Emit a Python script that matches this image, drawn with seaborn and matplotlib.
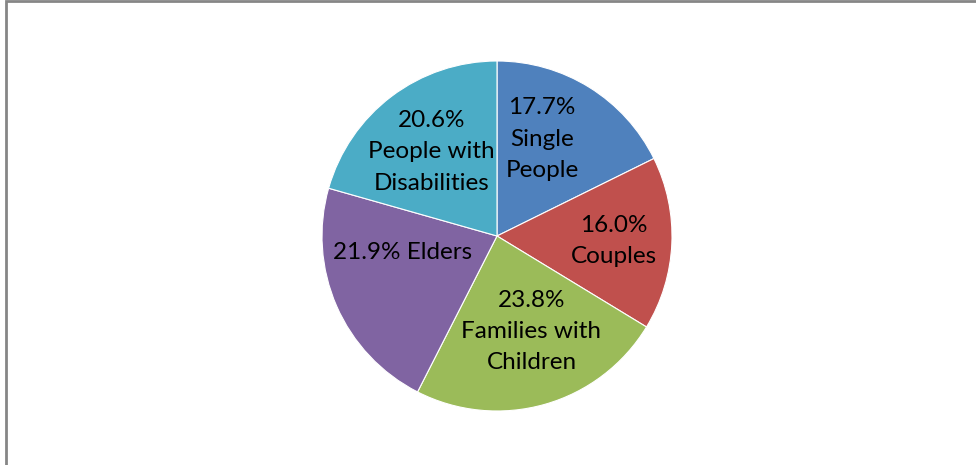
import numpy as np
import matplotlib
matplotlib.use("Agg")
import matplotlib.pyplot as plt
import seaborn as sns

# Household composition shares (%), clockwise from 12 o'clock
categories = ["Single\nPeople", "Couples", "Families with\nChildren", "Elders", "People with\nDisabilities"]
shares = [17.7, 16.0, 23.8, 21.9, 20.6]
label_joins = ["\n", "\n", "\n", " ", "\n"]

colors = ["#4F81BD", "#C0504D", "#9BBB59", "#8064A2", "#4BACC6"]

sns.set_theme(style="white")
plt.rcParams["font.family"] = ["Lato", "DejaVu Sans"]

W, H = 976, 465
fig = plt.figure(figsize=(W / 100, H / 100), dpi=100)
ax = fig.add_axes([0, 0, 1, 1])

cx, cy, R = 497, H - 236, 175
wedges, _ = ax.pie(shares, colors=colors, startangle=90, counterclock=False,
                   center=(cx, cy), radius=R, frame=True,
                   wedgeprops=dict(edgecolor="white", linewidth=0.8))

# label placement inside each slice (radial factor, angle nudge in degrees)
radial = [0.61, 0.67, 0.58, 0.55, 0.61]
nudge = [7, 0, 4, -14, 1]
for w, cat, val, j, rf, dn in zip(wedges, categories, shares, label_joins, radial, nudge):
    th = np.deg2rad((w.theta1 + w.theta2) / 2 + dn)
    x = cx + rf * R * np.cos(th)
    y = cy + rf * R * np.sin(th)
    ax.text(x, y, f"{val:.1f}%{j}{cat}", ha="center", va="center",
            fontsize=17.5, color="black", linespacing=1.6)

ax.set_xlim(0, W)
ax.set_ylim(0, H)
ax.set_aspect("equal")
ax.axis("off")

# chart frame (gray border, left and top visible)
fig.patches.append(plt.Rectangle((6 / W, -0.1), 1.2, 1.1 - 1.5 / H,
                                 transform=fig.transFigure, fill=False,
                                 edgecolor="#868686", linewidth=2))

fig.savefig("out.png", dpi=100)
